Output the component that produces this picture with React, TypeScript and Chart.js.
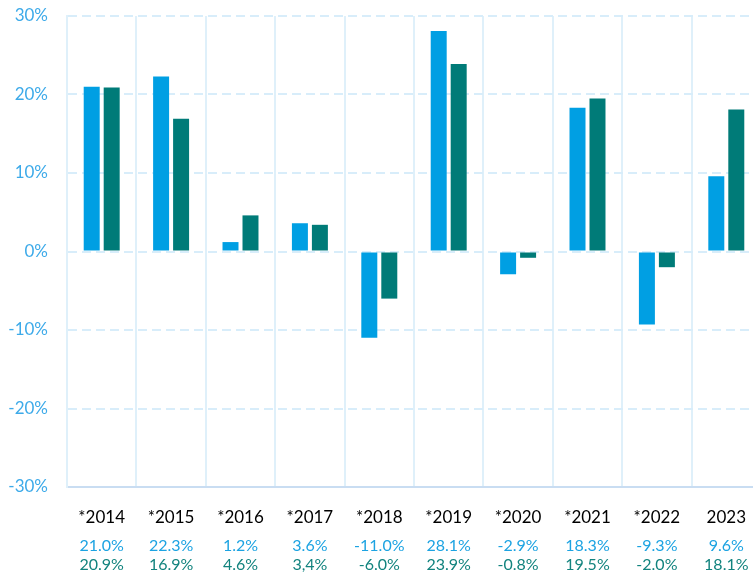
import React, { useEffect, useRef } from "react";
import { Chart, registerables } from "chart.js";

Chart.register(...registerables);

const categories = ["*2014", "*2015", "*2016", "*2017", "*2018", "*2019", "*2020", "*2021", "*2022", "2023"];
const seriesA = [21.0, 22.3, 1.2, 3.6, -11.0, 28.1, -2.9, 18.3, -9.3, 9.6];
const seriesB = [20.9, 16.9, 4.6, 3.4, -6.0, 23.9, -0.8, 19.5, -2.0, 18.1];
const labelsA = ["21.0%", "22.3%", "1.2%", "3.6%", "-11.0%", "28.1%", "-2.9%", "18.3%", "-9.3%", "9.6%"];
const labelsB = ["20.9%", "16.9%", "4.6%", "3,4%", "-6.0%", "23.9%", "-0.8%", "19.5%", "-2.0%", "18.1%"];
const yTicks = [-30, -20, -10, 0, 10, 20, 30];

const BLUE = "#009FE3";
const TEAL = "#007B78";
const FONT = "Lato, 'Open Sans', sans-serif";

const valueRows = {
  id: "valueRows",
  afterDraw(chart: any) {
    const { ctx, chartArea } = chart;
    const xs = chart.scales.x;
    ctx.save();
    ctx.font = `16px ${FONT}`;
    ctx.textAlign = "center";
    ctx.textBaseline = "middle";
    for (let i = 0; i < categories.length; i++) {
      const x = xs.getPixelForValue(i);
      ctx.fillStyle = "#1CA3E2";
      ctx.fillText(labelsA[i], x, chartArea.bottom + 59);
      ctx.fillStyle = "#12837E";
      ctx.fillText(labelsB[i], x, chartArea.bottom + 78);
    }
    ctx.restore();
  },
};

export default function App() {
  const ref = useRef<HTMLCanvasElement | null>(null);
  useEffect(() => {
    if (!ref.current) return;
    const chart = new Chart(ref.current, {
      type: "bar",
      data: {
        labels: categories,
        datasets: [
          { data: seriesA, backgroundColor: BLUE, categoryPercentage: 0.576, barPercentage: 0.8 },
          { data: seriesB, backgroundColor: TEAL, categoryPercentage: 0.576, barPercentage: 0.8 },
        ],
      },
      options: {
        animation: false,
        responsive: true,
        maintainAspectRatio: false,
        layout: { padding: { top: 16, right: 9, left: 0, bottom: 0 } },
        plugins: { legend: { display: false }, tooltip: { enabled: false } },
        scales: {
          x: {
            grid: { color: "#DFF0FA", lineWidth: 2, offset: true, drawTicks: false },
            border: { color: "#C9DDF2", width: 2 },
            ticks: { color: "#000000", font: { family: FONT, size: 17 }, padding: 20 },
            afterFit: (s: any) => { s.height = 89; },
          },
          y: {
            min: -30,
            max: 30,
            afterBuildTicks: (s: any) => { s.ticks = yTicks.map((v) => ({ value: v })); },
            grid: { color: "#D8EDFA", lineWidth: 2, drawTicks: true, tickLength: 19, tickColor: "rgba(0,0,0,0)" },
            border: { color: "#DFF0FA", width: 2, dash: [9, 5] },
            ticks: {
              color: "#3DAAE9",
              font: { family: FONT, size: 17 },
              padding: 0,
              callback: (v: any) => `${v}%`,
            },
            afterFit: (s: any) => { s.width = 67; },
          },
        },
      },
      plugins: [valueRows],
    });
    return () => chart.destroy();
  }, []);
  return (
    <div style={{ position: "fixed", left: 0, top: 0, width: 753, height: 576, overflow: "hidden", background: "#fff" }}>
      <div style={{ position: "relative", width: 770, height: 576 }}>
        <canvas ref={ref} />
      </div>
    </div>
  );
}
